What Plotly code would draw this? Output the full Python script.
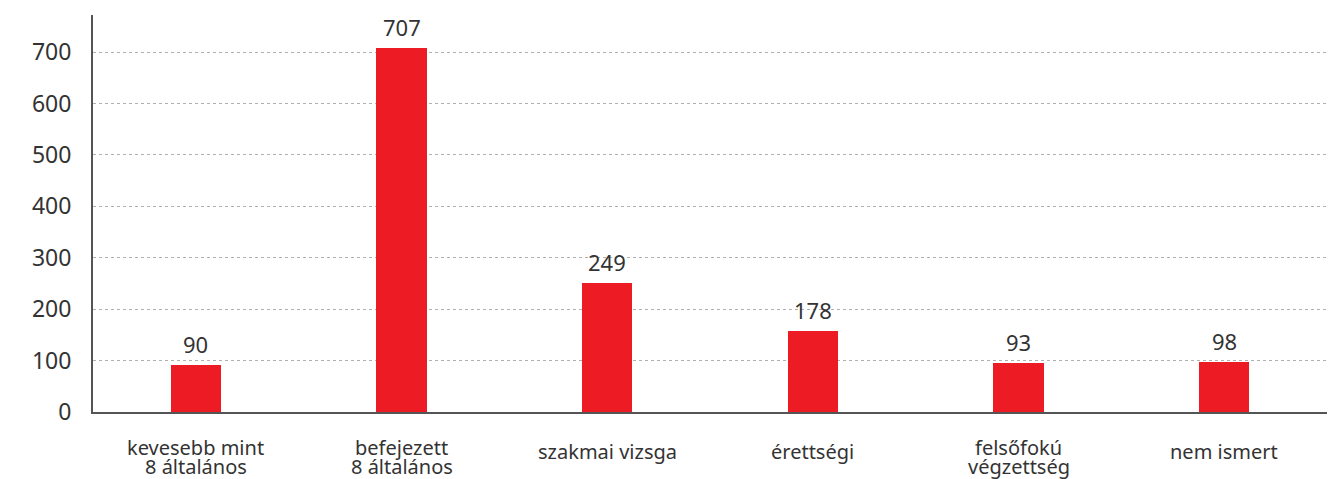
import plotly.graph_objects as go

categories = ['kevesebb mint<br>8 általános', 'befejezett<br>8 általános', 'szakmai vizsga',
              'érettségi', 'felsőfokú<br>végzettség', 'nem ismert']
bar_values = [92, 708, 250, 158, 96, 98]
label_values = ['90', '707', '249', '178', '93', '98']
y_ticks = [0, 100, 200, 300, 400, 500, 600, 700]

FONT = 'Noto Sans'
TEXT = '#333333'

fig = go.Figure()

fig.add_trace(go.Bar(x=categories, y=bar_values,
                     marker=dict(color='#ED1C24', line=dict(width=0)),
                     width=0.245,
                     hoverinfo='skip'))

# value labels above the bars
for cat, val, lab in zip(categories, bar_values, label_values):
    fig.add_annotation(x=cat, y=val, text=lab, showarrow=False,
                       yanchor='bottom', yshift=4,
                       font=dict(family=FONT, size=22, color=TEXT))

# category labels, one annotation per line so the line spacing stays tight
for cat in categories:
    lines = cat.split('<br>')
    shifts = [-35, -54] if len(lines) == 2 else [-39]
    for line, shift in zip(lines, shifts):
        fig.add_annotation(x=cat, y=0, text=line, showarrow=False,
                           yanchor='middle', yshift=shift,
                           font=dict(family=FONT, size=20, color=TEXT))

# page body has an 8px margin, so the figure is sized/placed to compensate
fig.update_layout(width=1331, height=471,
                  margin=dict(l=85, r=12, t=7, b=67),
                  autosize=False,
                  plot_bgcolor='white',
                  paper_bgcolor='white',
                  showlegend=False,
                  bargap=0,
                  xaxis=dict(showline=True, linecolor='#555555', linewidth=2,
                             showgrid=False, ticks='', automargin=False,
                             showticklabels=False),
                  yaxis=dict(range=[0, 772], tickvals=y_ticks,
                             showline=True, linecolor='#555555', linewidth=2,
                             showgrid=True, gridcolor='#b0b0b0', griddash='dot',
                             gridwidth=1, zeroline=False, ticks='', automargin=False,
                             ticklabelstandoff=15,
                             tickfont=dict(family=FONT, size=23, color=TEXT)))

fig.write_html('out.html')
